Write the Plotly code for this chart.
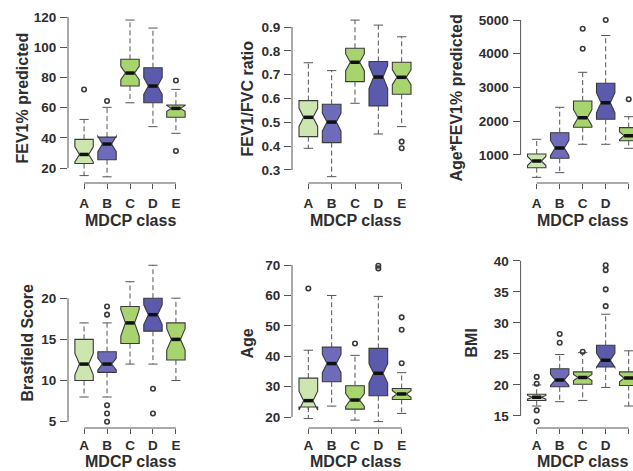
import plotly.graph_objects as go

categories = ["A", "B", "C", "D", "E"]
x_title = "MDCP class"
fill_colors = ["#cde6b0", "#6e6cba", "#a7d46f", "#5c5aad", "#a7d46f"]

# Panel 1: FEV1% predicted
fev1_title = "FEV1% predicted"
fev1_lo = [15, 14.2, 63.2, 47.4, 43]
fev1_q1 = [23, 25.5, 74.3, 63.2, 53.6]
fev1_med = [29, 35.9, 82.9, 74.3, 59.5]
fev1_q3 = [39, 40.5, 92, 86.4, 61.7]
fev1_hi = [52.2, 60.2, 118, 112.7, 72.1]
fev1_notch = [5, 5.1, 4.4, 5.5, 2]
fev1_out = [[72], [64.4], [], [], [78, 31.3]]
fev1_ticks = [20, 40, 60, 80, 100, 120]

# Panel 2: FEV1/FVC ratio
ratio_title = "FEV1/FVC ratio"
ratio_lo = [0.391, 0.272, 0.580, 0.451, 0.482]
ratio_q1 = [0.440, 0.415, 0.671, 0.569, 0.618]
ratio_med = [0.521, 0.501, 0.752, 0.690, 0.689]
ratio_q3 = [0.591, 0.576, 0.811, 0.755, 0.752]
ratio_hi = [0.750, 0.717, 0.929, 0.908, 0.859]
ratio_notch = [0.038, 0.038, 0.035, 0.048, 0.031]
ratio_out = [[], [], [], [], [0.419, 0.391]]
ratio_ticks = [0.3, 0.4, 0.5, 0.6, 0.7, 0.8, 0.9]

# Panel 3: Age*FEV1% predicted
agefev_title = "Age*FEV1% predicted"
agefev_lo = [339, 476, 1317, 1317, 1198]
agefev_q1 = [624, 902, 1820, 2057, 1424]
agefev_med = [822, 1207, 2106, 2550, 1572]
agefev_q3 = [1030, 1661, 2600, 3124, 1810]
agefev_hi = [1465, 2413, 3450, 4540, 2135]
agefev_notch = [133, 227, 237, 296, 118]
agefev_out = [[], [], [4742, 4150], [5000], [2650]]
agefev_ticks = [1000, 2000, 3000, 4000, 5000]

# Panel 4: Brasfield Score
bras_title = "Brasfield Score"
bras_lo = [8, 8, 12, 12, 10]
bras_q1 = [10, 11, 14.5, 16, 12.5]
bras_med = [12, 12, 17, 18, 15]
bras_q3 = [15, 13.5, 19, 20, 17]
bras_hi = [17, 17, 22, 24, 20]
bras_notch = [1.3, 0.7, 1.6, 1.2, 1.3]
bras_out = [[], [19, 18, 7, 6, 5], [], [9, 6], []]
bras_ticks = [5, 10, 15, 20]

# Panel 5: Age
age_title = "Age"
age_lo = [19.5, 23.6, 19.0, 18.5, 21.2]
age_q1 = [23.3, 31.6, 22.6, 27.0, 25.8]
age_med = [25.4, 37.6, 25.6, 34.4, 27.6]
age_q3 = [32.8, 43.0, 30.3, 42.6, 29.4]
age_hi = [42.0, 60.0, 40.3, 59.7, 34.6]
age_notch = [3.1, 3.0, 2.1, 3.2, 1.1]
age_out = [[62.3], [], [44.2], [69.8, 68.9], [52.8, 48.7, 37.7]]
age_ticks = [20, 30, 40, 50, 60, 70]

# Panel 6: BMI
bmi_title = "BMI"
bmi_lo = [16.6, 17.3, 17.5, 19.6, 16.6]
bmi_q1 = [17.5, 19.7, 20.1, 22.9, 19.9]
bmi_med = [18.0, 20.8, 21.2, 24.0, 21.1]
bmi_q3 = [18.5, 22.6, 22.1, 26.4, 22.1]
bmi_hi = [20.0, 24.9, 25.2, 31.4, 25.5]
bmi_notch = [0.3, 0.9, 0.5, 1.15, 0.6]
bmi_out = [[21.3, 20.2, 15.9, 14.1], [28.2, 26.8], [25.35], [39.3, 38.5, 35.4, 32.7], []]
bmi_ticks = [15, 20, 25, 30, 35, 40]

panels = [
    (fev1_title, fev1_lo, fev1_q1, fev1_med, fev1_q3, fev1_hi, fev1_notch, fev1_out, fev1_ticks),
    (ratio_title, ratio_lo, ratio_q1, ratio_med, ratio_q3, ratio_hi, ratio_notch, ratio_out, ratio_ticks),
    (agefev_title, agefev_lo, agefev_q1, agefev_med, agefev_q3, agefev_hi, agefev_notch, agefev_out, agefev_ticks),
    (bras_title, bras_lo, bras_q1, bras_med, bras_q3, bras_hi, bras_notch, bras_out, bras_ticks),
    (age_title, age_lo, age_q1, age_med, age_q3, age_hi, age_notch, age_out, age_ticks),
    (bmi_title, bmi_lo, bmi_q1, bmi_med, bmi_q3, bmi_hi, bmi_notch, bmi_out, bmi_ticks),
]

# ---- layout geometry (pixels in a 633x471 page) ----
W, H = 633, 471
col_px = [(68, 192), (292, 418), (520.6, 633)]
row_px = [(14, 183), (259, 428)]
x_ranges = [[0.3, 5.7], [0.3, 5.7], [0.3, 5.187]]
y_ranges = [[10.1, 122.0], [0.2454, 0.9546], [170, 5178],
            [4.24, 24.76], [16.4, 72.0], [13.06, 40.3]]
ytitle_x_px = [22, 247, 456, 27, 247, 471]
xtitle_y_px = [220, 471]
xtitle_anchor = ["middle", "bottom"]
xtick_standoff = [3, 0]

FONT = "Liberation Sans, Arial, Helvetica, sans-serif"
TXT = "#2e2e2e"
AX = "#555555"
BOX_W = 0.8
HALF_NOTCHED = 0.2
CAP_HALF = 0.2

positions = [i + 1 for i in range(len(categories))]

fig = go.Figure()
layout_axes = {}
shapes = []
annotations = []

for p, (title, lo, q1, med, q3, hi, notch, outs, ticks) in enumerate(panels):
    r, c = divmod(p, 3)
    n = p + 1
    xa = "x" if n == 1 else f"x{n}"
    ya = "y" if n == 1 else f"y{n}"
    xdom = [col_px[c][0] / W, col_px[c][1] / W]
    ydom = [1 - row_px[r][1] / H, 1 - row_px[r][0] / H]

    # dashed whiskers
    wx, wy = [], []
    for i, pos in enumerate(positions):
        wx += [pos, pos, None, pos, pos, None]
        wy += [q3[i], hi[i], None, q1[i], lo[i], None]
    fig.add_trace(go.Scatter(x=wx, y=wy, xaxis=xa, yaxis=ya, mode="lines",
                             line=dict(color=AX, width=1, dash="5px,3px"),
                             hoverinfo="skip", showlegend=False))
    # boxes
    for i, pos in enumerate(positions):
        fig.add_trace(go.Box(
            x=[pos], q1=[q1[i]], median=[med[i]], q3=[q3[i]],
            lowerfence=[q1[i]], upperfence=[q3[i]], notchspan=[notch[i]],
            notched=True, notchwidth=0.25, width=BOX_W, whiskerwidth=0,
            boxpoints=False, fillcolor=fill_colors[i],
            line=dict(color="#3a3a3a", width=1.1),
            xaxis=xa, yaxis=ya, showlegend=False, hoverinfo="skip"))
    # caps
    cx, cy = [], []
    for i, pos in enumerate(positions):
        cx += [pos - CAP_HALF, pos + CAP_HALF, None, pos - CAP_HALF, pos + CAP_HALF, None]
        cy += [hi[i], hi[i], None, lo[i], lo[i], None]
    fig.add_trace(go.Scatter(x=cx, y=cy, xaxis=xa, yaxis=ya, mode="lines",
                             line=dict(color=AX, width=1),
                             hoverinfo="skip", showlegend=False))
    # medians
    mx, my = [], []
    for i, pos in enumerate(positions):
        mx += [pos - HALF_NOTCHED, pos + HALF_NOTCHED, None]
        my += [med[i], med[i], None]
    fig.add_trace(go.Scatter(x=mx, y=my, xaxis=xa, yaxis=ya, mode="lines",
                             line=dict(color="#111111", width=3.5),
                             hoverinfo="skip", showlegend=False))
    # outliers
    ox, oy = [], []
    for i, pos in enumerate(positions):
        for v in outs[i]:
            ox.append(pos)
            oy.append(v)
    if ox:
        fig.add_trace(go.Scatter(x=ox, y=oy, xaxis=xa, yaxis=ya, mode="markers",
                                 marker=dict(symbol="circle-open", size=4.5, color="#3a3a3a",
                                             line=dict(width=1.6, color="#3a3a3a")),
                                 hoverinfo="skip", showlegend=False))

    layout_axes["xaxis" if n == 1 else f"xaxis{n}"] = dict(
        domain=xdom, anchor=ya, range=x_ranges[c], showgrid=False, zeroline=False,
        showline=False, ticks="outside", ticklen=5, tickcolor=AX, tickwidth=1,
        tickvals=positions, ticktext=categories, ticklabelstandoff=xtick_standoff[r],
        tickfont=dict(family=FONT, size=13.5, color=TXT, weight="bold"),
        automargin=False, fixedrange=True)
    layout_axes["yaxis" if n == 1 else f"yaxis{n}"] = dict(
        domain=ydom, anchor=xa, range=y_ranges[p], showgrid=False, zeroline=False,
        showline=False, ticks="outside", ticklen=7, tickcolor=AX, tickwidth=1,
        tickvals=ticks, ticklabelstandoff=1,
        tickfont=dict(family=FONT, size=13.5, color=TXT, weight="bold"),
        automargin=False, fixedrange=True)

    # R-style axis lines spanning the ticks only
    shapes.append(dict(type="line", xref=xa, yref=f"{ya} domain",
                       x0=positions[0], x1=positions[-1], y0=0, y1=0,
                       line=dict(color=AX, width=1)))
    shapes.append(dict(type="line", xref=f"{xa} domain", yref=ya,
                       x0=0, x1=0, y0=ticks[0], y1=ticks[-1],
                       line=dict(color=AX, width=1)))

    annotations.append(dict(text=x_title, xref=xa, x=3, yref="paper",
                            y=1 - xtitle_y_px[r] / H, xanchor="center",
                            yanchor=xtitle_anchor[r], borderpad=0,
                            showarrow=False,
                            font=dict(family=FONT, size=16, color=TXT, weight="bold")))
    annotations.append(dict(text=title, xref="paper", x=ytitle_x_px[p] / W,
                            yref="paper", y=(ydom[0] + ydom[1]) / 2, textangle=-90,
                            xanchor="center", yanchor="middle", showarrow=False,
                            font=dict(family=FONT, size=16, color=TXT, weight="bold")))

fig.update_layout(
    width=W, height=H, margin=dict(l=0, r=0, t=0, b=0),
    paper_bgcolor="white", plot_bgcolor="white",
    boxmode="overlay", showlegend=False,
    shapes=shapes, annotations=annotations, **layout_axes)

fig.write_html("out.html", config={"displayModeBar": False},
               post_script="document.body.style.margin='0';document.body.style.overflow='hidden';")
